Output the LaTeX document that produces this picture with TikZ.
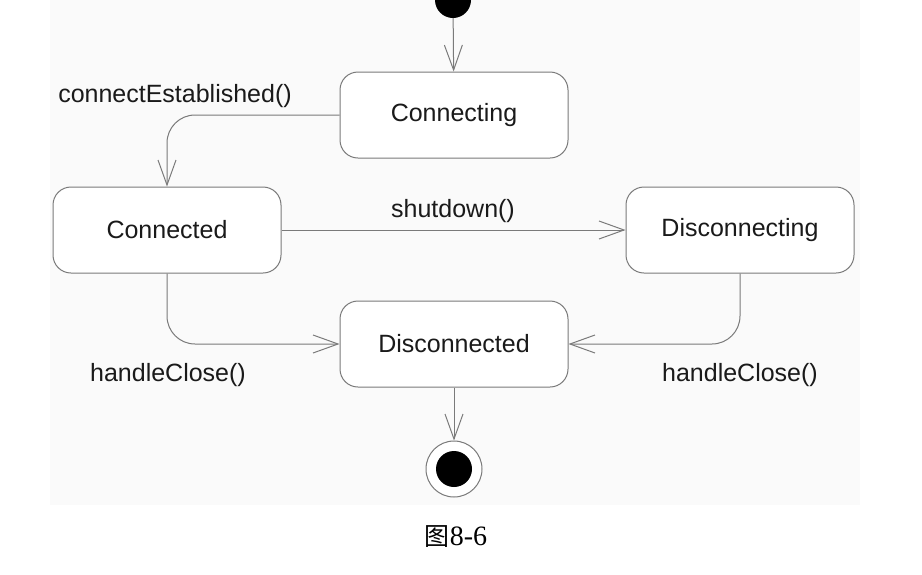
\documentclass[tikz,border=0pt]{standalone}
\usepackage{fontspec}
\setmainfont{Liberation Sans}
\newfontfamily\cjkfont{Noto Sans CJK SC}
\newfontfamily\capfont{Liberation Serif}
\usetikzlibrary{arrows.meta}
\definecolor{bgpanel}{HTML}{FAFAFA}
\definecolor{linegray}{HTML}{7A7A7A}
\definecolor{txt}{HTML}{1A1A1A}
\begin{document}
\begin{tikzpicture}[x=1pt,y=-1pt,
  statebox/.style={draw=linegray, line width=1pt, rounded corners=18pt, fill=white,
    minimum width=228pt, minimum height=86pt, font=\fontsize{25}{28}\selectfont, text=txt, inner sep=0pt},
  lbl/.style={font=\fontsize{25}{28}\selectfont, text=txt, inner sep=0pt},
  trans/.style={draw=linegray, line width=1pt, rounded corners=28pt,
    -{Straight Barb[length=25pt,width=18pt,line width=1pt]}}]
\useasboundingbox (0,0) rectangle (922,574);
\fill[white] (0,0) rectangle (922,574);
\fill[bgpanel] (50,0) rectangle (860,505);
% states
\node[statebox] (connecting) at (454,115) {Connecting};
\node[statebox] (connected) at (167,230) {Connected};
\node[statebox] (disconnecting) at (740,230) {Disconnecting};
\node[statebox] (disconnected) at (454,344) {Disconnected};
% initial and final
\begin{scope}
\clip (0,0) rectangle (922,574);
\node[circle, fill=black, minimum size=36pt, inner sep=0pt] (init) at (453,0) {};
\end{scope}
\node[circle, draw=linegray, line width=1pt, fill=white, minimum size=56pt, inner sep=0pt] (final) at (454,469) {};
\node[circle, fill=black, minimum size=36pt, inner sep=0pt] (finaldot) at (final.center) {};
% transitions
\draw[trans] (init) -- (connecting);
\draw[trans] (connecting.west) -| (connected.north);
\draw[trans] (connected.east) -- (disconnecting.west);
\draw[trans] (connected.south) |- (disconnected.west);
\draw[trans] (disconnecting.south) |- (disconnected.east);
\draw[trans] (disconnected) -- (final);
% labels
\node[lbl] (l1) at (175,96) {connectEstablished()};
\node[lbl] (l2) at (453,211) {shutdown()};
\node[lbl] (l3) at (168,375) {handleClose()};
\node[lbl] (l4) at (740,375) {handleClose()};
\node[inner sep=0pt, text=black] (cap) at (456,537) {{\cjkfont\fontsize{25}{28}\selectfont 图}{\capfont\fontsize{28}{30}\selectfont 8-6}};
\end{tikzpicture}
\end{document}
